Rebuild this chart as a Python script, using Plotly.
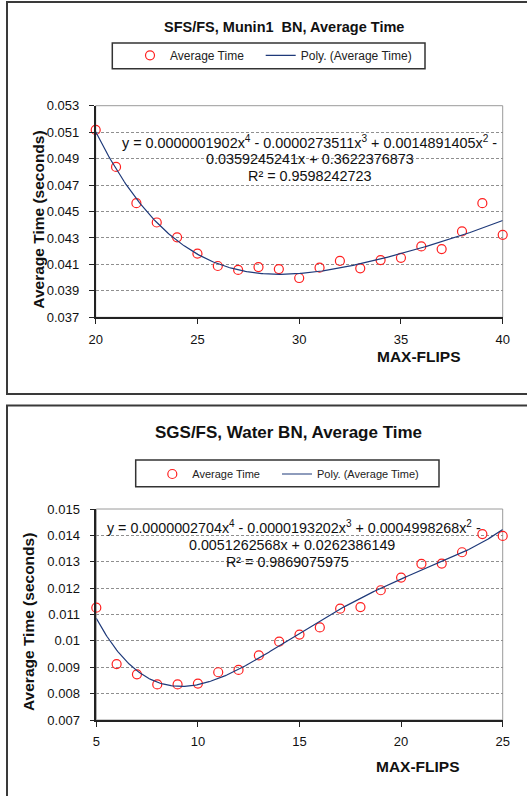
import numpy as np
import plotly.graph_objects as go

W, H = 527, 796
FONT = "Liberation Sans, Arial, sans-serif"

# ---------------- data ----------------
# Chart 1: SFS/FS, Munin1 BN
munin_x = list(range(20, 41))
munin_y = [0.05117, 0.04837, 0.04563, 0.04417, 0.04305, 0.04181, 0.04088,
           0.04058, 0.04080, 0.04065, 0.03997, 0.04075, 0.04126, 0.04070,
           0.04133, 0.04150, 0.04236, 0.04216, 0.04349, 0.04563, 0.04324]
munin_coef = [0.0000001902, -0.0000273511, 0.0014891405, -0.0359245241, 0.3622376873]
munin_eq = ["y = 0.0000001902x<sup>4</sup> - 0.0000273511x<sup>3</sup> + 0.0014891405x<sup>2</sup> -",
            "0.0359245241x + 0.3622376873",
            "R² = 0.9598242723"]
munin_yticks = [0.037, 0.039, 0.041, 0.043, 0.045, 0.047, 0.049, 0.051, 0.053]
munin_yticktext = ["0.037", "0.039", "0.041", "0.043", "0.045", "0.047", "0.049", "0.051", "0.053"]
munin_xticks = [20, 25, 30, 35, 40]

# Chart 2: SGS/FS, Water BN
water_x = list(range(5, 26))
water_y = [0.01126, 0.00912, 0.00873, 0.00835, 0.00835, 0.00838, 0.00881,
           0.00890, 0.00945, 0.00997, 0.01024, 0.01051, 0.01122, 0.01128,
           0.01192, 0.01240, 0.01292, 0.01293, 0.01336, 0.01405, 0.01398]
water_coef = [0.0000002704, -0.0000193202, 0.0004998268, -0.0051262568, 0.0262386149]
water_eq = ["y = 0.0000002704x<sup>4</sup> - 0.0000193202x<sup>3</sup> + 0.0004998268x<sup>2</sup> -",
            "0.0051262568x + 0.0262386149",
            "R² = 0.9869075975"]
water_yticks = [0.007, 0.008, 0.009, 0.010, 0.011, 0.012, 0.013, 0.014, 0.015]
water_yticktext = ["0.007", "0.008", "0.009", "0.01", "0.011", "0.012", "0.013", "0.014", "0.015"]
water_xticks = [5, 10, 15, 20, 25]

titles = ["SFS/FS, Munin1  BN, Average Time", "SGS/FS, Water BN, Average Time"]
series_name = "Average Time"
trend_name = "Poly. (Average Time)"
x_title = "MAX-FLIPS"
y_title = "Average Time (seconds)"

RED = "#FF2020"
NAVY = "#1F3A7A"


def px(x):
    return x / W


def py(y):
    return 1 - y / H


fig = go.Figure()

# trendline curves from the displayed polynomial coefficients
mx = np.linspace(munin_x[0], munin_x[-1], 300)
wx = np.linspace(water_x[0], water_x[-1], 300)

marker_style = dict(symbol="circle-open", size=9, color=RED, line=dict(width=1.2))
fig.add_trace(go.Scatter(x=munin_x, y=munin_y, mode="markers", name=series_name, marker=marker_style,
                         cliponaxis=False, xaxis="x", yaxis="y", legend="legend2"))
fig.add_trace(go.Scatter(x=mx, y=np.polyval(munin_coef, mx), mode="lines", name=trend_name,
                         line=dict(color=NAVY, width=1.2), xaxis="x", yaxis="y", legend="legend3"))
fig.add_trace(go.Scatter(x=water_x, y=water_y, mode="markers", name=series_name, marker=marker_style,
                         cliponaxis=False, xaxis="x2", yaxis="y2", legend="legend4"))
fig.add_trace(go.Scatter(x=wx, y=np.polyval(water_coef, wx), mode="lines", name=trend_name,
                         line=dict(color=NAVY, width=1.2), xaxis="x2", yaxis="y2", legend="legend5"))

tickfont = dict(family=FONT, size=13, color="#111111")
common_x = dict(showgrid=False, zeroline=False, showline=True, linecolor="#222222", linewidth=1.6,
                ticks="outside", ticklen=5, tickcolor="#222222", tickwidth=1.2,
                tickfont=tickfont, ticklabelstandoff=4, automargin=False)
common_y = dict(showgrid=True, gridcolor="#8f8f8f", gridwidth=1, griddash="3px,2px",
                zeroline=False, showline=True, linecolor="#222222", linewidth=1.6,
                ticks="outside", ticklen=5, tickcolor="#222222", tickwidth=1.2,
                tickfont=tickfont, ticklabelstandoff=7, automargin=False)


def leg(x, y, size):
    return dict(orientation="h", x=px(x), y=py(y), xanchor="left", yanchor="middle",
                borderwidth=0, bgcolor="rgba(0,0,0,0)",
                font=dict(family=FONT, size=size, color="#222222"))


fig.update_layout(
    width=W, height=H, autosize=False,
    margin=dict(l=0, r=0, t=0, b=0, pad=0, autoexpand=False),
    paper_bgcolor="white", plot_bgcolor="white",
    font=dict(family=FONT, color="#111111"),
    xaxis=dict(domain=[px(95.7), px(502.7)], range=[20, 40], tickvals=munin_xticks,
               anchor="y", **common_x),
    yaxis=dict(domain=[py(317.3), py(105.7)], range=[0.037, 0.053], tickvals=munin_yticks,
               ticktext=munin_yticktext, anchor="x", **common_y),
    xaxis2=dict(domain=[px(96.3), px(502.7)], range=[5, 25], tickvals=water_xticks,
                anchor="y2", **common_x),
    yaxis2=dict(domain=[py(720), py(509)], range=[0.007, 0.015], tickvals=water_yticks,
                ticktext=water_yticktext, anchor="x2", **common_y),
    legend2=leg(130, 55.3, 12),
    legend3=leg(260.7, 55.3, 12),
    legend4=leg(152.3, 474, 11),
    legend5=leg(277, 474, 11),
)

shapes = []
# outer chart frames
shapes.append(dict(type="rect", xref="paper", yref="paper", x0=px(7), x1=px(540),
                   y0=py(394), y1=py(2), line=dict(color="#3a3a3a", width=2), layer="below"))
shapes.append(dict(type="rect", xref="paper", yref="paper", x0=px(7), x1=px(540),
                   y0=py(820), y1=py(405.5), line=dict(color="#3a3a3a", width=2), layer="below"))
# plot-area borders
for xr, yr in (("x", "y"), ("x2", "y2")):
    shapes.append(dict(type="rect", xref=xr + " domain", yref=yr + " domain", x0=0, x1=1, y0=0, y1=1,
                       line=dict(color="#9a9a9a", width=1), layer="below"))
# legend boxes
shapes.append(dict(type="rect", xref="paper", yref="paper", x0=px(112.3), x1=px(425),
                   y0=py(68.7), y1=py(43), line=dict(color="#333333", width=1.5)))
shapes.append(dict(type="rect", xref="paper", yref="paper", x0=px(135.7), x1=px(439),
                   y0=py(486.7), y1=py(460), line=dict(color="#333333", width=1.5)))
fig.update_layout(shapes=shapes)

ann = []


def text(x, y, s, size, bold=False, angle=0):
    ann.append(dict(xref="paper", yref="paper", x=px(x), y=py(y), xanchor="center", yanchor="middle",
                    text=("<b>%s</b>" % s) if bold else s, showarrow=False, textangle=angle,
                    font=dict(family=FONT, size=size, color="#111111")))


text(284, 27, titles[0], 14.5, bold=True)
text(288, 432, titles[1], 17, bold=True)
text(419, 356.7, x_title, 15.5, bold=True)
text(418, 766.7, x_title, 15.5, bold=True)
text(38.3, 219.4, y_title, 15.5, bold=True, angle=-90)
text(28.3, 621.7, y_title, 15.5, bold=True, angle=-90)

for (cx, cy), s in zip([(309.5, 142), (310, 159), (310, 176)], munin_eq):
    text(cx, cy, s, 14.4)
for (cx, cy), s in zip([(293.5, 527), (292, 545), (287.5, 562)], water_eq):
    text(cx, cy, s, 14.3)

fig.update_layout(annotations=ann)

fig.write_html("out.html", config={"displayModeBar": False},
               post_script="document.body.style.margin='0';document.body.style.overflow='hidden';")
